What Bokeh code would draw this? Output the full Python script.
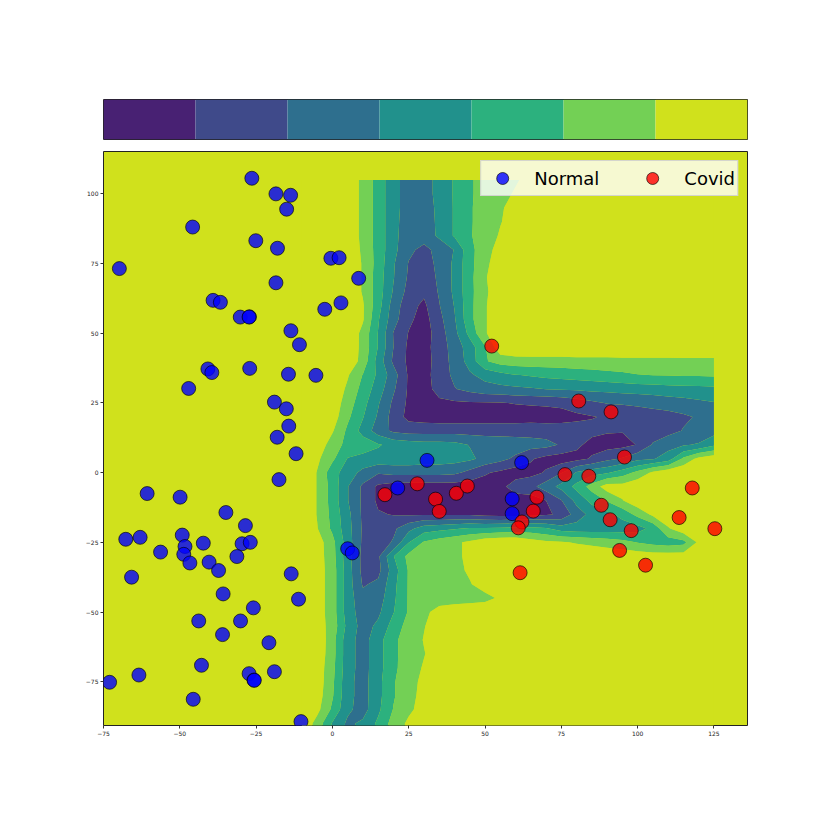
import numpy as np
from bokeh.plotting import figure
from bokeh.layouts import column
from bokeh.models import Range1d, FixedTicker
from bokeh.embed import file_html
from bokeh.resources import INLINE

# ---------------- data ----------------
# field values (band 0 = darkest .. 6 = yellow) on a 5-unit grid
GRID_X = list(range(-10, 130, 5))          # 28 columns: -10 .. 125
GRID_Y = list(range(105, -100, -5))        # 41 rows: 105 .. -95
FIELD_ROWS = [
    [6.4, 6.4, 6.4, 6.3, 5.2, 4.1, 2.8, 2.1, 2.1, 2.8, 3.6, 4.4, 4.8, 5.1, 5.4, 5.8, 6.1] + [6.4] * 11,   # 105
    [6.4, 6.4, 6.4, 6.3, 5.2, 4.1, 2.8, 2.1, 2.1, 2.8, 3.6, 4.4, 4.8, 5.2, 5.6, 6.0] + [6.4] * 12,        # 100
    [6.4, 6.4, 6.4, 6.3, 5.2, 4.1, 2.8, 2.1, 2.1, 2.7, 3.6, 4.4, 4.9, 5.4, 5.8, 6.2] + [6.4] * 12,        # 95
    [6.4, 6.4, 6.4, 6.3, 5.2, 4.1, 2.8, 2.0, 2.0, 2.7, 3.6, 4.4, 4.9, 5.45, 5.9, 6.3] + [6.4] * 12,       # 90
    [6.4, 6.4, 6.4, 6.3, 5.2, 4.1, 2.8, 1.9, 1.9, 2.7, 3.6, 4.4, 5.0, 5.6, 6.1] + [6.4] * 13,             # 85
    [6.4, 6.4, 6.4, 6.3, 5.3, 4.1, 2.8, 1.7, 1.25, 1.8, 2.55, 4.2, 5.1, 5.9] + [6.4] * 14,               # 80
    [6.4, 6.4, 6.4, 6.3, 5.4, 4.1, 2.6, 1.45, 1.15, 1.7, 2.7, 4.2, 5.2, 6.2] + [6.4] * 14,               # 75
    [6.4, 6.4, 6.4, 6.3, 5.4, 4.0, 2.55, 1.35, 0.85, 1.7, 2.7, 4.2, 5.4, 6.2] + [6.4] * 14,              # 70
    [6.4, 6.4, 6.4, 6.3, 5.4, 4.0, 2.4, 1.15, 0.7, 1.6, 2.7, 4.2, 5.3, 6.2] + [6.4] * 14,                # 65
    [6.4, 6.4, 6.4, 6.4, 5.6, 3.9, 2.05, 0.85, 0.3, 1.45, 2.55, 4.2, 5.4, 6.2] + [6.4] * 14,             # 60
    [6.4, 6.4, 6.4, 6.4, 5.6, 3.6, 1.9, 0.7, 0.1, 1.2, 2.4, 4.2, 5.4, 6.2] + [6.4] * 14,                 # 55
    [6.4, 6.4, 6.4, 6.35, 5.2, 3.45, 1.45, 0.45, 0.0, 1.0, 2.2, 3.8, 5.4, 6.2] + [6.4] * 14,             # 50
    [6.4, 6.4, 6.4, 6.3, 5.2, 3.45, 1.5, 0.3, 0.1, 1.0, 1.9, 3.0, 4.4, 6.2] + [6.4] * 14,                # 45
    [6.4, 6.4, 6.4, 6.3, 5.1, 3.1, 1.3, 0.3, 0.0, 1.0, 1.8, 2.9, 4.4, 4.9, 5.05, 5.1, 5.1, 5.1,
     5.15, 5.15, 5.15, 5.2, 5.2, 5.2, 5.2, 5.25, 5.25, 5.25],                                             # 40
    [6.4, 6.4, 6.3, 5.6, 4.45, 3.3, 1.95, 0.35, 0.1, 1.0, 1.7, 2.35, 2.85, 3.2, 3.45, 3.6, 3.75, 3.85,
     3.95, 4.05, 4.2, 4.3, 4.45, 4.52, 4.55, 4.6, 4.6, 4.65],                                             # 35
    [6.4, 6.4, 6.3, 5.3, 4.15, 3.0, 1.65, 0.35, 0.1, 0.85, 1.45, 1.8, 2.1, 2.2, 2.3, 2.4, 2.52, 2.6,
     2.65, 2.75, 2.8, 2.9, 2.95, 3.0, 3.1, 3.15, 3.2, 3.25],                                              # 30
    [6.4, 6.4, 6.15, 5.0, 3.85, 2.6, 1.3, 0.3, 0.2, 0.3, 0.35, 0.4, 0.4, 0.45, 0.55, 0.6, 0.65, 0.75,
     1.0, 1.3, 1.55, 1.6, 1.7, 1.85, 2.0, 2.1, 2.3, 2.45],                                                # 25
    [6.4, 6.4, 6.0, 4.7, 3.55, 2.35, 1.1, 0.2, 0.05, 0.0, 0.0, 0.0, 0.0, 0.0, 0.0, 0.05, 0.05, 0.1,
     0.3, 0.45, 0.6, 0.8, 0.9, 1.0, 1.1, 1.35, 1.6, 2.0],                                                 # 20
    [6.4, 6.3, 5.6, 4.3, 3.15, 2.0, 1.3, 1.1, 1.1, 1.1, 1.1, 1.1, 1.1, 1.1, 1.1, 1.1, 1.05, 1.0,
     0.9, 0.75, 0.6, 0.55, 0.7, 1.0, 1.2, 1.55, 1.8, 2.1],                                                # 15
    [6.4, 6.2, 5.0, 4.2, 4.0, 3.6, 3.2, 3.0, 2.9, 2.9, 2.8, 2.45, 2.2, 2.1, 2.0, 1.9, 1.8, 1.4,
     0.7, 0.2, 0.1, 0.2, 0.55, 1.6, 2.1, 2.4, 2.6, 3.3],                                                  # 10
    [6.4, 5.7, 4.7, 3.45, 3.2, 3.15, 3.1, 3.1, 3.0, 3.0, 2.9, 2.7, 2.2, 1.8, 1.3, 0.6, 0.2, 0.0,
     0.2, 0.6, 1.2, 1.6, 2.2, 2.4, 3.0, 4.7, 5.8, 6.2],                                                   # 5
    [6.4, 5.45, 3.9, 3.0, 2.2, 1.6, 1.8, 1.8, 1.8, 1.8, 1.7, 1.2, 0.6, 0.3, 0.0, 0.2, 0.6, 1.45,
     2.6, 3.1, 3.4, 4.0, 4.8, 5.7, 6.2, 6.4, 6.4, 6.4],                                                   # 0
    [6.4, 5.45, 4.1, 2.55, 1.3, 0.3, 0.0, 0.0, 0.0, 0.0, 0.0, 0.0, 0.1, 0.2, 1.0, 1.2, 2.0, 2.8,
     3.8, 4.9, 6.0, 5.9, 6.3, 6.4, 6.4, 6.4, 6.4, 6.4],                                                   # -5
    [6.4, 5.45, 4.1, 2.55, 1.3, 0.3] + [0.0] * 10 + [0.5, 1.45, 2.8, 3.8, 4.6, 5.45, 6.2, 6.4, 6.4,
                                                      6.4, 6.4, 6.4],                                     # -10
    [6.4, 5.45, 4.2, 2.8, 1.3, 0.6, 0.45, 0.4, 0.4, 0.4, 0.4, 0.4, 0.2, 0.1, 0.1, 0.2, 0.35, 0.7,
     2.0, 2.8, 3.2, 3.8, 4.8, 5.7, 6.3, 6.4, 6.4, 6.4],                                                   # -15
    [6.4, 5.55, 4.3, 2.9, 1.35, 1.1, 1.3, 2.2, 3.0, 3.2, 3.4, 3.6, 3.6, 3.7, 3.8, 3.8, 3.6, 3.0,
     2.9, 2.9, 3.0, 3.0, 3.1, 3.8, 5.4, 6.2, 6.4, 6.4],                                                   # -20
    [6.4, 6.0, 4.8, 3.0, 1.3, 1.0, 1.6, 3.45, 4.6, 5.0, 5.3, 5.7, 6.2, 6.4, 6.4, 6.0, 5.7, 5.6,
     5.4, 5.2, 5.0, 4.8, 4.45, 4.2, 4.0, 4.2, 5.7, 6.2],                                                  # -25
    [6.4, 6.0, 4.9, 2.9, 1.2, 1.3, 3.45, 4.8, 5.0, 5.1, 5.3, 5.7, 6.2, 6.4, 6.4, 6.4, 6.4, 6.4,
     6.4, 6.4, 6.3, 6.2, 6.1, 6.0, 6.0, 6.0, 6.1, 6.3],                                                   # -30
    [6.4, 6.0, 5.0, 3.0, 1.2, 1.2, 3.0, 4.6, 5.0, 5.1, 5.3, 5.6, 6.1] + [6.4] * 15,                     # -35
    [6.4, 6.0, 5.0, 3.0, 1.4, 1.7, 3.2, 4.6, 5.0, 5.1, 5.2, 5.45, 5.8, 6.2] + [6.4] * 14,               # -40
    [6.4, 6.0, 5.0, 3.0, 1.8, 2.0, 3.3, 4.6, 5.0, 5.1, 5.1, 5.2, 5.3, 5.6, 6.0] + [6.4] * 13,           # -45
    [6.4, 6.0, 5.0, 3.0, 2.0, 2.3, 3.45, 4.6, 5.3, 5.8, 6.0, 6.0, 6.0, 6.1] + [6.4] * 14,               # -50
    [6.4, 6.0, 5.1, 3.2, 2.1, 2.7, 3.9, 4.9, 5.45, 6.0] + [6.4] * 18,                                   # -55
    [6.4, 6.3, 4.9, 2.9, 2.1, 3.1, 4.3, 4.95, 5.55, 6.0] + [6.4] * 18,                                  # -60
    [6.4, 6.2, 4.9, 2.9, 2.1, 3.1, 4.3, 4.95, 5.45, 6.0] + [6.4] * 18,                                  # -65
    [6.4, 6.1, 4.8, 2.9, 2.1, 3.1, 4.3, 5.0, 5.6, 6.1] + [6.4] * 18,                                    # -70
    [6.4, 6.1, 4.7, 2.8, 2.1, 3.2, 4.4, 5.2, 5.7, 6.2] + [6.4] * 18,                                    # -75
    [6.4, 6.0, 4.6, 2.8, 2.1, 3.2, 4.4, 5.2, 5.8, 6.3] + [6.4] * 18,                                    # -80
    [6.4, 5.8, 4.3, 2.7, 2.1, 3.3, 4.55, 5.3, 5.9, 6.4] + [6.4] * 18,                                   # -85
    [6.4, 5.1, 3.4, 2.3, 2.7, 3.7, 4.9, 5.7, 6.2, 6.4] + [6.4] * 18,                                    # -90
    [6.4, 5.1, 3.4, 2.3, 2.7, 3.7, 4.9, 5.7, 6.2, 6.4] + [6.4] * 18,                                    # -95
]
LEVELS = [-0.5, 0.5, 1.5, 2.5, 3.5, 4.5, 5.5, 6.5]
PALETTE = ["#482173", "#3f4a8a", "#2e6f8e", "#21918c", "#2cb17e", "#73d055", "#d0e11c"]

NORMAL_X = [-26.4, -18.5, -13.7, -15.0, -45.8, -25.1, -18.0, -69.8, -0.5, 2.2,
            8.6, -18.5, -39.1, -36.7, -30.2, -27.2, -27.3, -2.5, 2.8, -13.6,
            -10.8, -40.8, -39.5, -27.1, -47.1, -14.4, -5.4, -19.0, -15.1, -14.3,
            -18.1, -11.9, -17.5, -60.7, -49.9, -34.9, -28.5, -67.7, -63.0, -49.2,
            -48.3, -42.3, -29.6, -26.9, -56.3, -48.7, -46.7, -40.4, -31.3, -37.3,
            -65.8, -13.5, -35.8, -11.1, -25.9, -43.8, -30.1, -36.0, -20.8, -42.9,
            -63.4, -27.3, -25.7, -25.6, -19.0, -73.0, -45.6, -10.3, 5.0, 6.5,
            31.0, 21.4, 62.0, 58.9, 58.9]
NORMAL_Y = [105.6, 100.0, 99.5, 94.5, 88.1, 83.2, 80.5, 73.2, 76.9, 77.1,
            69.7, 68.1, 61.8, 61.1, 55.8, 55.9, 55.8, 58.6, 60.9, 50.9,
            45.9, 37.2, 35.9, 37.4, 30.2, 35.3, 34.9, 25.3, 22.9, 16.7,
            12.7, 6.8, -2.5, -7.5, -8.8, -14.3, -19.0, -23.9, -23.2, -22.4,
            -26.5, -25.3, -25.5, -25.0, -28.5, -29.3, -32.4, -32.1, -30.1, -35.1,
            -37.5, -36.3, -43.5, -45.4, -48.5, -53.2, -53.2, -58.1, -61.0, -69.1,
            -72.6, -72.1, -74.4, -74.5, -71.4, -75.2, -81.3, -89.3, -27.3, -28.8,
            4.4, -5.5, 3.6, -9.4, -14.7]
COVID_X = [52.2, 80.7, 91.3, 95.7, 17.2, 27.8, 33.8, 40.6, 44.2, 35.0,
           76.2, 84.0, 67.0, 65.8, 62.1, 60.9, 88.1, 91.0, 97.9, 94.1,
           102.6, 61.5, 117.9, 113.6, 125.3]
COVID_Y = [45.4, 25.7, 21.8, 5.6, -7.9, -4.0, -9.5, -7.4, -4.8, -13.9,
           -0.7, -1.3, -8.8, -13.8, -17.7, -19.8, -11.7, -16.9, -20.8, -27.9,
           -33.2, -35.9, -5.5, -16.1, -20.1]

X_TICKS = [-75, -50, -25, 0, 25, 50, 75, 100, 125]
Y_TICKS = [-75, -50, -25, 0, 25, 50, 75, 100]

assert all(len(r) == len(GRID_X) for r in FIELD_ROWS), [len(r) for r in FIELD_ROWS]
assert len(FIELD_ROWS) == len(GRID_Y)

# ---------------- figures ----------------
W = 807
LEFT, RIGHT = 103, 60

cb = figure(width=W, height=145, x_range=Range1d(LEVELS[0], LEVELS[-1]), y_range=Range1d(0, 1),
            toolbar_location=None, output_backend="svg",
            x_axis_location=None, y_axis_location=None,
            min_border_left=LEFT, min_border_right=RIGHT, min_border_top=99, min_border_bottom=6)
cb.grid.visible = False
cb.quad(left=LEVELS[:-1], right=LEVELS[1:], bottom=0, top=1, fill_color=PALETTE, line_color=None)
cb.outline_line_color = "#222222"
cb.outline_line_width = 1

p = figure(width=W, height=600, x_range=Range1d(-75, 136), y_range=Range1d(-90.7, 115.2),
           toolbar_location=None, output_backend="svg",
           min_border_left=LEFT, min_border_right=RIGHT, min_border_top=6, min_border_bottom=20)
p.background_fill_color = PALETTE[-1]
p.grid.visible = False
p.outline_line_color = "#222222"
p.outline_line_width = 1

xs = np.array(GRID_X, dtype=float)
ys = np.array(GRID_Y[::-1], dtype=float)
Z = np.array(FIELD_ROWS, dtype=float)[::-1]
p.contour(x=xs, y=ys, z=Z, levels=LEVELS, fill_color=PALETTE, line_color=None)

p.scatter(NORMAL_X, NORMAL_Y, size=14, fill_color="blue", fill_alpha=0.8,
          line_color="black", line_alpha=0.8, line_width=0.8, legend_label="Normal")
p.scatter(COVID_X, COVID_Y, size=14, fill_color="red", fill_alpha=0.8,
          line_color="black", line_alpha=0.8, line_width=0.8, legend_label="Covid")

for ax, ticks in ((p.xaxis, X_TICKS), (p.yaxis, Y_TICKS)):
    ax.ticker = FixedTicker(ticks=ticks)
    ax.major_label_overrides = {t: str(t).replace("-", "\u2212") for t in ticks}
    ax.axis_line_color = None
    ax.major_tick_line_color = "#333333"
    ax.major_tick_out = 3
    ax.major_tick_in = 0
    ax.minor_tick_line_color = None
    ax.major_label_text_font_size = "6px"
    ax.major_label_text_font = "DejaVu Sans"
    ax.major_label_text_color = "#222222"
    ax.major_label_standoff = 2

lg = p.legend[0]
lg.location = "top_right"
lg.orientation = "horizontal"
lg.margin = 9
lg.padding = 2
lg.spacing = 34
lg.glyph_width = 38
lg.glyph_height = 30
lg.label_standoff = 13
lg.label_text_font = "DejaVu Sans"
lg.label_text_font_size = "18px"
lg.label_text_color = "black"
lg.background_fill_color = "white"
lg.background_fill_alpha = 0.8
lg.border_line_color = "#cccccc"
lg.border_line_alpha = 0.8

layout = column(cb, p, spacing=0)
open("out.html", "w").write(file_html(layout, INLINE))
